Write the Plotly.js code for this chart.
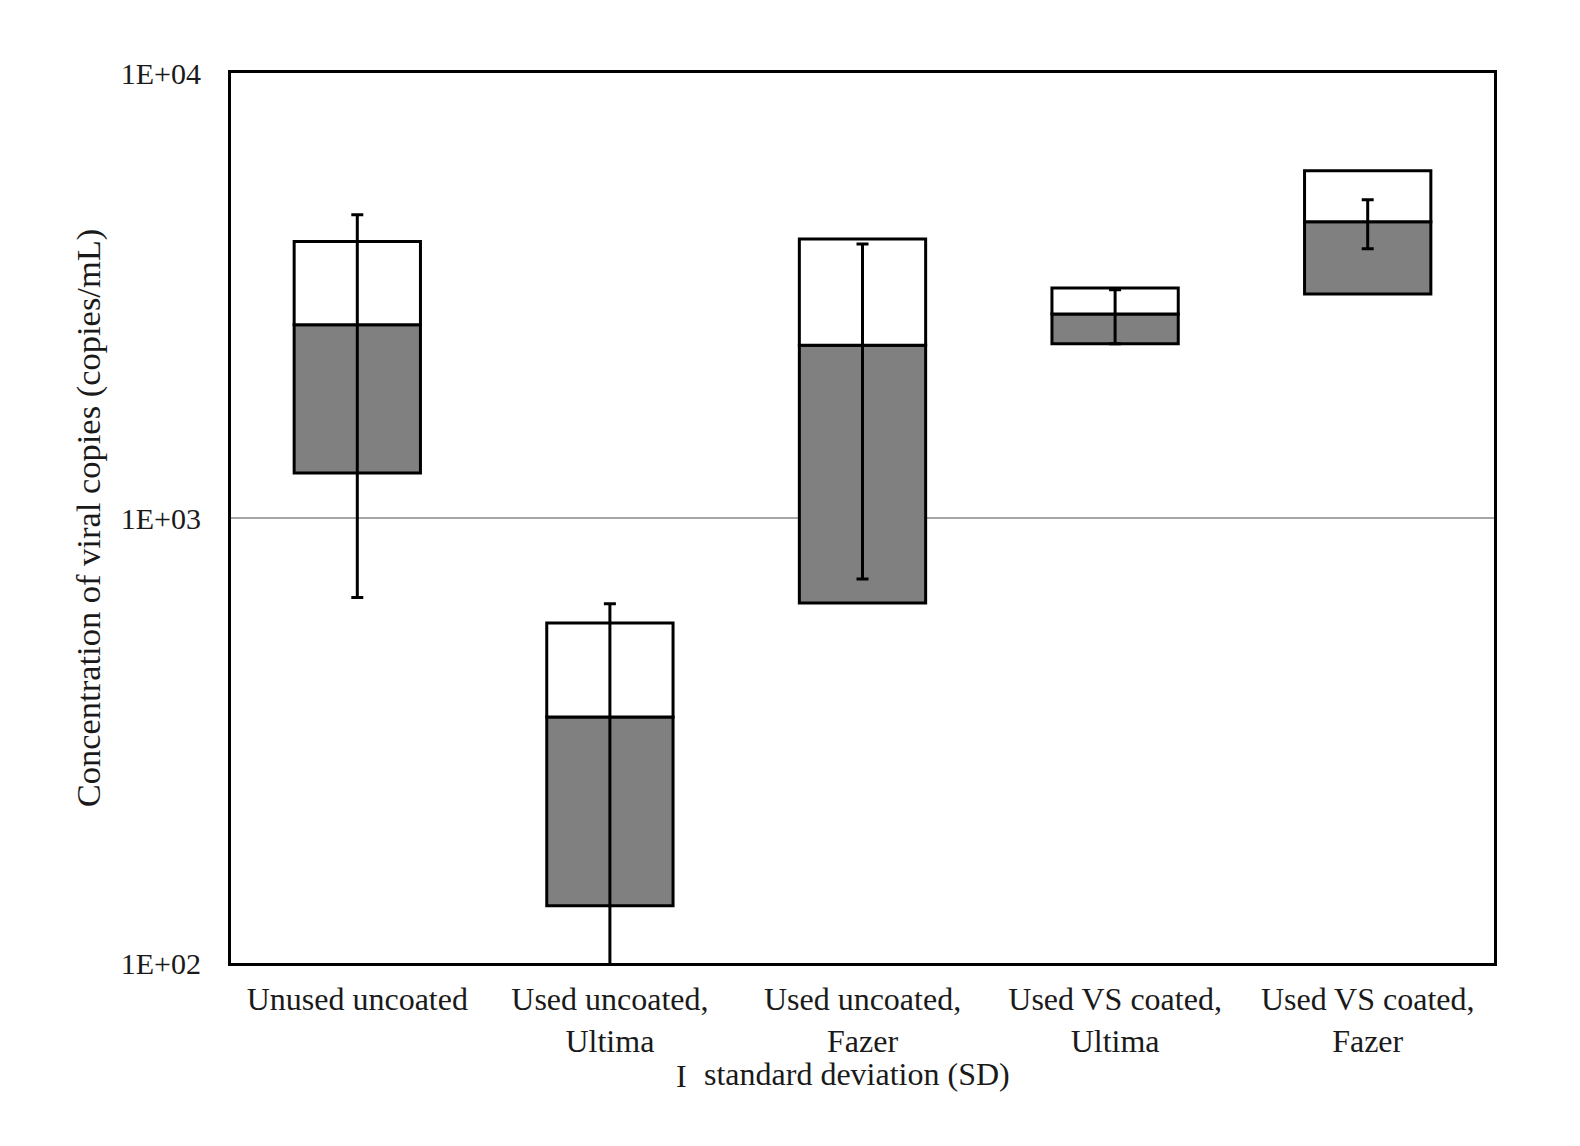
<!DOCTYPE html>
<html>
<head>
<meta charset="utf-8">
<script src="https://cdn.plot.ly/plotly-3.0.1.min.js"></script>
<style>html,body{margin:0;padding:0;background:#fff;}#chart{width:1580px;height:1146px;}</style>
</head>
<body>
<div id="chart"></div>
<script>
// Categories
const categories = ["Unused uncoated", "Used uncoated,<br>Ultima", "Used uncoated,<br>Fazer", "Used VS coated,<br>Ultima", "Used VS coated,<br>Fazer"];
// Box values (copies/mL)
const lowerValues  = [1262, 134.5, 644, 2465, 3187];
const middleValues = [2719, 357, 2443, 2872, 4633];
const upperValues  = [4183, 581, 4236, 3288, 6031];
// Standard deviation bar ends
const sdHigh = [4804, 642, 4128, 3258, 5192];
const sdLow  = [663, 70, 729, 2465, 4030];
// Tick labels
const yTickVals = [100, 1000, 10000];
const yTickText = ["1E+02", "1E+03", "1E+04"];

const serif = "Liberation Serif, Times New Roman, serif";
const txtColor = "#1a1a1a";

const lowerBar = {
  type: "bar", x: categories,
  base: lowerValues,
  y: middleValues.map((m, i) => m - lowerValues[i]),
  marker: {color: "#808080", line: {color: "#000", width: 3}},
  width: 0.5, showlegend: false, hoverinfo: "skip"
};
const upperBar = {
  type: "bar", x: categories,
  base: middleValues,
  y: upperValues.map((u, i) => u - middleValues[i]),
  marker: {color: "#ffffff", line: {color: "#000", width: 3}},
  width: 0.5, showlegend: false, hoverinfo: "skip"
};
const sdTrace = {
  type: "scatter", mode: "markers", x: categories, y: middleValues,
  marker: {size: 0.1, color: "rgba(0,0,0,0)"},
  error_y: {
    type: "data", symmetric: false,
    array: sdHigh.map((h, i) => h - middleValues[i]),
    arrayminus: middleValues.map((m, i) => m - sdLow[i]),
    color: "#000", thickness: 3, width: 6
  },
  showlegend: false, hoverinfo: "skip"
};

const layout = {
  width: 1580, height: 1146,
  paper_bgcolor: "#fff", plot_bgcolor: "#fff",
  margin: {l: 231, r: 86, t: 73, b: 183},
  barmode: "overlay",
  font: {family: serif, size: 30, color: txtColor},
  xaxis: {
    type: "category", range: [-0.5, 4.5],
    showline: true, linecolor: "#000", linewidth: 3, mirror: true,
    ticks: "", showgrid: false, zeroline: false,
    tickfont: {family: serif, size: 32, color: txtColor},
    ticklabelstandoff: 6
  },
  yaxis: {
    type: "log", range: [2, 4],
    tickvals: yTickVals, ticktext: yTickText,
    showline: true, linecolor: "#000", linewidth: 3, mirror: true,
    ticks: "", showgrid: true, gridcolor: "#a6a6a6", gridwidth: 2.5, zeroline: false,
    tickfont: {family: serif, size: 30, color: txtColor},
    ticklabelstandoff: 21,
    title: {text: "Concentration of viral copies (copies/mL)", font: {family: serif, size: 34.5, color: txtColor}, standoff: 10}
  },
  annotations: [
    {xref: "paper", yref: "paper", x: (681 - 231) / 1263, y: (963 - 1076) / 890,
     text: "I", showarrow: false, xanchor: "center", yanchor: "middle",
     font: {family: serif, size: 32, color: txtColor}},
    {xref: "paper", yref: "paper", x: (702 - 231) / 1263, y: (963 - 1074) / 890,
     text: "standard deviation (SD)", showarrow: false, xanchor: "left", yanchor: "middle",
     font: {family: serif, size: 32, color: txtColor}}
  ]
};

Plotly.newPlot("chart", [lowerBar, upperBar, sdTrace], layout, {displayModeBar: false, staticPlot: true});
</script>
</body>
</html>
